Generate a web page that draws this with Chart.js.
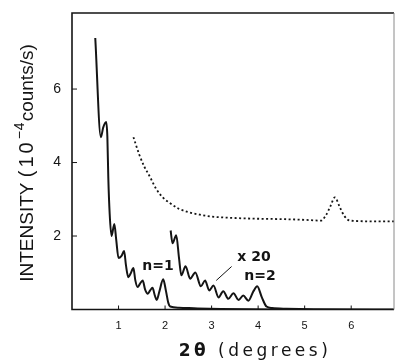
<!DOCTYPE html>
<html>
<head>
<meta charset="utf-8">
<script src="https://cdn.jsdelivr.net/npm/chart.js@4.4.0/dist/chart.umd.min.js"></script>
<style>
  html, body { margin: 0; padding: 0; background: #fff; }
  canvas { display: block; }
</style>
</head>
<body>
<canvas id="chart" width="396" height="362"></canvas>
<script>
// axis ticks
var xTicks = [1, 2, 3, 4, 5, 6];
var yTicks = [2, 4, 6];

// first order reflection, n=1 (solid)
var n1X = [0.50, 0.62, 0.67, 0.735, 0.76, 0.78, 0.81, 0.85, 0.91, 0.95, 1.00, 1.06, 1.12, 1.16, 1.21, 1.26, 1.32, 1.36, 1.41, 1.46, 1.52, 1.57, 1.63, 1.68, 1.73, 1.78, 1.82, 1.88, 1.96, 2.02, 2.07, 2.11, 2.30, 2.70, 3.20, 3.80, 4.50];
var n1Y = [7.39, 4.69, 4.95, 5.10, 4.70, 3.60, 2.60, 2.00, 2.33, 1.90, 1.40, 1.45, 1.59, 1.20, 0.88, 0.98, 1.13, 0.80, 0.61, 0.70, 0.79, 0.55, 0.43, 0.52, 0.59, 0.38, 0.26, 0.50, 0.82, 0.50, 0.18, 0.08, 0.05, 0.03, 0.015, 0.005, 0.0];

// second order, x 20, n=2 (solid)
var n2X = [2.12, 2.16, 2.24, 2.30, 2.35, 2.44, 2.54, 2.65, 2.77, 2.86, 2.95, 3.04, 3.15, 3.25, 3.36, 3.47, 3.58, 3.68, 3.79, 3.90, 3.98, 4.08, 4.18, 4.30, 4.60, 5.20, 6.92];
var n2Y = [2.15, 1.80, 2.02, 1.40, 0.93, 1.18, 0.84, 1.01, 0.63, 0.79, 0.52, 0.65, 0.33, 0.50, 0.29, 0.44, 0.26, 0.38, 0.24, 0.50, 0.63, 0.33, 0.08, 0.04, 0.02, 0.005, 0.0];

// dotted curve
var dotX = [1.32, 1.45, 1.55, 1.68, 1.80, 1.95, 2.10, 2.30, 2.50, 2.75, 3.00, 3.50, 4.00, 4.50, 5.00, 5.35, 5.45, 5.55, 5.65, 5.75, 5.85, 5.97, 6.50, 6.92];
var dotY = [4.69, 4.20, 3.90, 3.60, 3.30, 3.05, 2.90, 2.74, 2.65, 2.58, 2.53, 2.49, 2.47, 2.46, 2.44, 2.42, 2.55, 2.80, 3.05, 2.80, 2.55, 2.42, 2.40, 2.40];

var toPoints = function (xs, ys) {
    return xs.map(function (x, i) { return { x: x, y: ys[i] }; });
};

var INK = '#141414';

var decor = {
    id: 'decor',
    afterDraw: function (chart) {
        var ctx = chart.ctx;
        var a = chart.chartArea;
        var sx = chart.scales.x;
        var sy = chart.scales.y;
        ctx.save();

        // frame
        ctx.strokeStyle = INK;
        ctx.lineWidth = 1.6;
        ctx.beginPath();
        ctx.moveTo(a.right, a.top);
        ctx.lineTo(a.left, a.top);
        ctx.lineTo(a.left, a.bottom);
        ctx.lineTo(a.right, a.bottom);
        ctx.stroke();
        ctx.strokeStyle = '#8a8a8a';
        ctx.lineWidth = 1;
        ctx.beginPath();
        ctx.moveTo(a.right, a.top);
        ctx.lineTo(a.right, a.bottom);
        ctx.stroke();

        // inward tick marks
        ctx.strokeStyle = INK;
        ctx.lineWidth = 1;
        ctx.beginPath();
        xTicks.forEach(function (v) {
            var px = sx.getPixelForValue(v);
            ctx.moveTo(px, a.bottom);
            ctx.lineTo(px, a.bottom - 4);
        });
        yTicks.forEach(function (v) {
            var py = sy.getPixelForValue(v);
            ctx.moveTo(a.left, py);
            ctx.lineTo(a.left + 5, py);
        });
        ctx.stroke();

        // labels on the curves
        ctx.fillStyle = INK;
        ctx.font = 'bold 14px "DejaVu Sans"';
        ctx.textAlign = 'center';
        ctx.textBaseline = 'middle';
        ctx.fillText('n=1', sx.getPixelForValue(1.85), sy.getPixelForValue(1.17));
        ctx.fillText('x 20', sx.getPixelForValue(3.91), sy.getPixelForValue(1.41));
        ctx.fillText('n=2', sx.getPixelForValue(4.04), sy.getPixelForValue(0.90));
        ctx.lineWidth = 1;
        ctx.beginPath();
        ctx.moveTo(sx.getPixelForValue(3.43), sy.getPixelForValue(1.17));
        ctx.lineTo(sx.getPixelForValue(3.10), sy.getPixelForValue(0.79));
        ctx.stroke();

        // x title
        ctx.textAlign = 'left';
        ctx.textBaseline = 'alphabetic';
        ctx.letterSpacing = '3.5px';
        ctx.font = 'bold 17px "DejaVu Sans"';
        var t1 = '2\u03b8';
        var t2 = ' (degrees)';
        var w1 = ctx.measureText(t1).width;
        ctx.font = '17px "DejaVu Sans"';
        var w2 = ctx.measureText(t2).width;
        var x0 = 255 - (w1 + w2) / 2;
        ctx.font = 'bold 17px "DejaVu Sans"';
        ctx.fillText(t1, x0, 356);
        ctx.font = '17px "DejaVu Sans"';
        ctx.fillText(t2, x0 + w1, 356);
        ctx.letterSpacing = '0px';

        // y title, rotated
        ctx.translate(33, 163);
        ctx.rotate(-Math.PI / 2);
        var parts = [
            { t: 'INTENSITY ', f: '19px "Liberation Sans"', dy: 0, sp: '0px' },
            { t: '(10', f: '20px "Liberation Sans"', dy: 0, sp: '3px' },
            { t: '\u22124', f: '14px "Liberation Sans"', dy: -9, sp: '1px' },
            { t: 'counts/s)', f: '19px "Liberation Sans"', dy: 0, sp: '0px' }
        ];
        var total = 0;
        parts.forEach(function (p) {
            ctx.font = p.f;
            ctx.letterSpacing = p.sp;
            p.w = ctx.measureText(p.t).width;
            total += p.w;
        });
        var cx = -total / 2;
        parts.forEach(function (p) {
            ctx.font = p.f;
            ctx.letterSpacing = p.sp;
            ctx.fillText(p.t, cx, p.dy);
            cx += p.w;
        });
        ctx.restore();
    }
};

new Chart(document.getElementById('chart'), {
    type: 'line',
    data: {
        datasets: [{
            data: toPoints(n1X, n1Y),
            borderColor: INK,
            borderWidth: 2,
            pointRadius: 0,
            cubicInterpolationMode: 'monotone',
            fill: false
        }, {
            data: toPoints(n2X, n2Y),
            borderColor: INK,
            borderWidth: 2,
            pointRadius: 0,
            cubicInterpolationMode: 'monotone',
            fill: false
        }, {
            data: toPoints(dotX, dotY),
            borderColor: INK,
            borderWidth: 1.8,
            borderDash: [2, 2.5],
            pointRadius: 0,
            cubicInterpolationMode: 'monotone',
            fill: false
        }]
    },
    options: {
        responsive: false,
        animation: false,
        events: [],
        layout: { padding: { top: 13, right: 2, left: 0, bottom: 0 } },
        plugins: { legend: { display: false }, tooltip: { enabled: false } },
        scales: {
            x: {
                type: 'linear',
                min: 0,
                max: 6.92,
                afterFit: function (s) { s.height = 52.5; s.paddingLeft = 0; s.paddingRight = 0; },
                afterBuildTicks: function (s) { s.ticks = xTicks.map(function (v) { return { value: v }; }); },
                grid: { display: false, drawTicks: false },
                border: { display: false },
                ticks: { color: INK, padding: 10, font: { family: '"Liberation Sans"', size: 11 } }
            },
            y: {
                min: 0,
                max: 8.07,
                afterFit: function (s) { s.width = 72; s.paddingTop = 0; s.paddingBottom = 0; },
                afterBuildTicks: function (s) { s.ticks = yTicks.map(function (v) { return { value: v }; }); },
                grid: { display: false, drawTicks: false },
                border: { display: false },
                ticks: { color: INK, padding: 11, font: { family: '"Liberation Sans"', size: 14 } }
            }
        }
    },
    plugins: [decor]
});
</script>
</body>
</html>
